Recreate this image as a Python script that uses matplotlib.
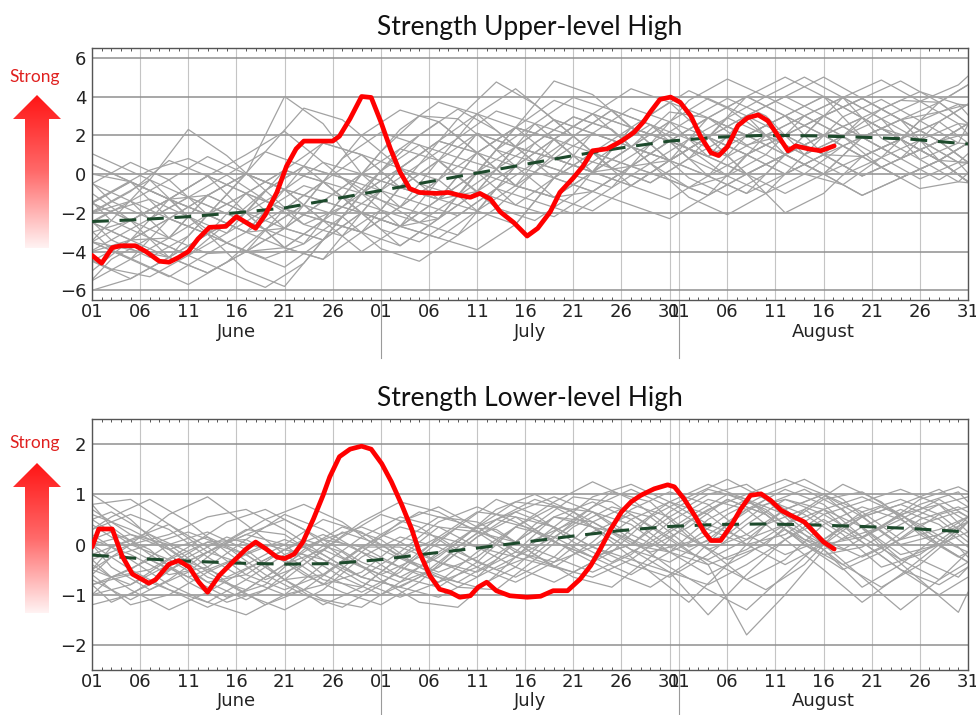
import numpy as np
import matplotlib
matplotlib.use("Agg")
import matplotlib.pyplot as plt
from matplotlib.patches import Polygon
from matplotlib.colors import LinearSegmentedColormap
from matplotlib.ticker import FixedLocator, MultipleLocator

# ---------------- data ----------------
# x positions are days since June 1 (June 1 = 0, July 1 = 30, Aug 1 = 61, Aug 31 = 91)
tick_days = [0, 5, 10, 15, 20, 25, 30, 35, 40, 45, 50, 55, 60, 61, 66, 71, 76, 81, 86, 91]
tick_labels = ['01', '06', '11', '16', '21', '26', '01', '06', '11', '16', '21', '26', '31',
               '01', '06', '11', '16', '21', '26', '31']
month_names = ['June', 'July', 'August']
month_centers = [15, 45.5, 76]
month_bounds = [30, 61]

titles = ['Strength Upper-level High', 'Strength Lower-level High']
upper_yticks = [-6, -4, -2, 0, 2, 4, 6]
lower_yticks = [-2, -1, 0, 1, 2]

# climatology (dashed green)
clim_days = [0, 5, 10, 15, 20, 25, 30, 35, 40, 45, 50, 55, 60, 65, 70, 75, 80, 85, 91]
upper_clim = [-2.45, -2.35, -2.2, -2.0, -1.75, -1.3, -0.85, -0.4, 0.05, 0.5, 0.95, 1.35,
              1.7, 1.9, 2.0, 1.97, 1.9, 1.8, 1.55]
lower_clim = [-0.21, -0.28, -0.33, -0.37, -0.39, -0.38, -0.3, -0.18, -0.07, 0.05, 0.17,
              0.28, 0.36, 0.4, 0.41, 0.39, 0.36, 0.32, 0.25]

# current year (red)
upper_red_days = [0, 1, 2.1, 3, 4.5, 5.6, 7, 8, 9, 10, 11, 12.2, 13.9, 15, 16, 17, 18, 19.2,
                  20.2, 21.2, 22, 23.6, 25, 25.7, 26.8, 28, 29, 30, 31, 32, 33, 34, 35.8, 37,
                  38.2, 39.3, 40.3, 41.4, 42.4, 43.8, 45.2, 46.3, 47.6, 48.6, 50, 51, 52,
                  53.5, 55, 56.3, 57.3, 58, 59, 60.1, 61.1, 62.2, 63.2, 64.3, 65.1, 66, 67.1,
                  68.1, 69.2, 70.2, 71.3, 72.3, 73.1, 74.4, 75.7, 77.1]
upper_red = [-4.2, -4.6, -3.8, -3.7, -3.7, -4.0, -4.5, -4.55, -4.3, -4.0, -3.35, -2.75,
             -2.7, -2.2, -2.5, -2.8, -2.1, -0.95, 0.4, 1.3, 1.7, 1.7, 1.7, 1.95, 2.85, 4.0,
             3.95, 2.7, 1.3, 0.1, -0.75, -0.95, -1.0, -0.95, -1.1, -1.2, -1.0, -1.3, -1.95,
             -2.5, -3.2, -2.8, -1.95, -0.95, -0.2, 0.4, 1.2, 1.3, 1.7, 2.15, 2.7, 3.2, 3.85,
             3.97, 3.7, 3.0, 1.95, 1.1, 0.95, 1.4, 2.5, 2.9, 3.05, 2.75, 1.95, 1.2, 1.45,
             1.3, 1.2, 1.45]

lower_red_days = [0, 0.7, 2.1, 3.1, 4.2, 5.9, 6.6, 8, 9, 10.1, 11.1, 12, 13.2, 14.6, 16, 17,
                  18.1, 19.2, 20, 21, 21.9, 23, 24, 24.7, 25.7, 26.8, 28, 29, 30.1, 31.1,
                  32.2, 33.2, 34, 35.1, 36.1, 37.2, 38.2, 39.3, 40.1, 41, 42, 43.4, 45.2,
                  46.6, 47.9, 49.4, 50.7, 51.8, 52.8, 53.9, 55, 56, 57, 58.4, 59.8, 60.5,
                  61.5, 62.6, 63.6, 64.3, 65.3, 66.4, 67.4, 68.4, 69.5, 70.5, 71.6, 72.6, 74,
                  75, 76, 77.1]
lower_red = [-0.05, 0.31, 0.31, -0.22, -0.59, -0.77, -0.7, -0.39, -0.32, -0.45, -0.75,
             -0.95, -0.62, -0.35, -0.09, 0.05, -0.09, -0.25, -0.28, -0.19, 0.05, 0.51, 0.98,
             1.35, 1.75, 1.9, 1.96, 1.9, 1.61, 1.25, 0.78, 0.31, -0.15, -0.62, -0.89, -0.95,
             -1.05, -1.02, -0.85, -0.75, -0.92, -1.02, -1.05, -1.03, -0.92, -0.92, -0.69,
             -0.42, -0.09, 0.31, 0.65, 0.85, 0.98, 1.11, 1.19, 1.15, 0.91, 0.58, 0.25, 0.08,
             0.08, 0.38, 0.71, 0.98, 1.01, 0.88, 0.68, 0.58, 0.45, 0.25, 0.05, -0.09]

# past years (gray), sampled every 4 days on two staggered grids
gray_days = [0, 4, 8, 12, 16, 20, 24, 28, 32, 36, 40, 44, 48, 52, 56, 60, 64, 68, 72, 76, 80,
             84, 88, 91]
gray_days_b = [0, 2, 6, 10, 14, 18, 22, 26, 30, 34, 38, 42, 46, 50, 54, 58, 62, 66, 70, 74,
               78, 82, 86, 90, 91]
upper_gray = [
    [-0.5, 0.6, -0.3, -2.1, -3.0, -0.8, 1.6, 1.0, -0.7, -1.3, 0.1, 2.4, 1.8, 0.1, 1.4, 3.2, 2.9, 1.5, 2.0, 3.0, 3.9, 2.8, 1.7, 2.6],
    [-5.5, -4.4, -2.3, -1.1, -2.0, -3.8, -4.4, -2.0, 0.3, 1.7, 1.1, -0.6, -1.2, 0.1, 2.4, 1.7, -0.1, -1.0, 1.0, 2.0, 0.9, -0.2, 0.7, 1.6],
    [-2.5, -3.4, -4.3, -3.1, -1.0, 0.2, -0.4, -2.0, -2.7, -1.3, 1.1, 2.4, 1.8, 1.1, 0.4, 1.7, 2.9, 4.0, 3.0, 1.0, -0.1, 0.8, 2.7, 3.6],
    [-1.5, -2.4, -1.3, -0.1, -2.0, -2.8, -3.4, -1.0, 1.3, 2.7, 1.1, -0.6, 0.8, 2.1, 1.4, 0.7, 1.9, 3.0, 1.0, 0.0, 1.9, 2.8, 1.7, 0.6],
    [-3.5, -4.4, -5.3, -4.1, -4.0, -2.8, -1.4, -2.0, -3.7, -2.3, 0.1, -0.6, -1.2, -0.9, 0.4, 0.7, 1.9, 1.0, 0.0, 1.0, 0.9, 1.8, 0.7, -0.4],
    [0.5, -0.4, -1.3, -0.1, 1.0, 2.2, 0.6, -1.0, -1.7, -0.3, 2.1, 1.4, 0.8, 0.1, 1.4, 2.7, 3.9, 3.0, 2.0, 3.0, 3.9, 4.8, 3.7, 2.6],
    [-1.5, -0.4, -1.3, -2.1, 0.0, 4.0, 2.6, 0.0, -0.7, 0.7, 3.1, 4.4, 2.8, 2.1, 1.4, 0.7, 1.9, 3.0, 4.0, 5.0, 3.9, 2.8, 3.7, 4.6],
    [-4.5, -3.4, -2.3, -3.1, -5.0, -5.8, -3.4, -1.0, 0.3, -0.3, -1.9, -2.6, -0.2, 1.1, 2.4, 1.7, 0.9, 0.0, 1.0, 2.0, 2.9, 1.8, 0.7, -0.4],
    [-2.0, -0.9, 0.7, -0.1, -1.0, -1.8, -2.4, -3.0, -1.7, 0.7, 2.1, 0.4, -1.2, -1.9, -0.6, 0.7, 1.9, 1.0, 0.0, 1.0, 1.9, 2.8, 3.2, 3.6],
    [-4.0, -3.4, -2.3, -1.1, 0.0, -0.8, -1.4, 0.0, 1.3, 0.7, -0.9, -1.6, -0.2, 2.1, 3.4, 2.7, 0.9, 0.0, 1.0, 3.0, 3.9, 2.8, 0.7, -0.4],
    [-0.5, -1.4, -3.3, -4.1, -3.0, -1.8, -0.4, -1.0, -2.7, -3.3, -1.9, 0.4, 1.8, 3.1, 2.4, 0.7, -0.1, 1.0, 2.0, 1.0, -0.1, 0.8, 1.7, 2.6],
    [-3.0, -2.4, -1.3, -2.1, -3.0, -3.8, -2.4, 0.0, 2.3, 3.7, 3.1, 1.4, 0.8, 0.1, 0.4, 1.7, 2.9, 2.0, 1.0, 0.0, 0.9, 1.8, 2.7, 1.6],
    [-6.0, -5.4, -4.3, -3.1, -4.0, -4.8, -3.4, -2.0, -2.7, -3.3, -3.9, -2.6, -0.2, 1.1, 0.4, -0.3, -1.1, 0.0, 1.0, 0.0, -1.1, -0.2, 0.7, 0.6],
    [-1.5, -0.4, -1.3, -1.1, 0.0, -0.8, -2.4, -3.0, -1.7, -0.3, 1.1, 2.4, 3.8, 3.1, 1.4, 0.7, 1.9, 4.0, 5.0, 4.0, 1.9, 0.8, 1.7, 2.6],
    [-3.5, -3.9, -4.3, -5.1, -4.0, -1.8, -0.4, 1.0, 0.3, -1.3, -1.9, -0.6, 1.8, 3.1, 4.4, 3.7, 1.9, 0.0, -1.0, 0.0, 1.9, 2.8, 1.7, 0.6],
    [-2.5, -1.4, -0.3, 0.9, 0.0, -0.8, -1.4, -2.0, -2.7, -2.3, -0.9, 1.4, 2.8, 2.1, 1.4, 0.7, -0.1, -1.0, 0.0, 1.0, 2.9, 3.8, 3.7, 2.6],
    [0.0, -0.4, -1.3, -3.1, -4.0, -3.8, -2.4, -1.0, 0.3, 1.7, 3.1, 2.4, 0.8, 0.1, -0.6, 0.7, 2.9, 4.0, 3.0, 2.0, 0.9, -0.2, 0.7, 1.6],
    [-4.5, -5.4, -4.3, -2.1, -1.0, -1.8, -2.4, -3.0, -3.7, -2.3, 0.1, 1.4, 0.8, 0.1, 1.4, 2.7, 1.9, 1.0, 2.0, 3.0, 1.9, 0.8, -0.3, 0.6],
    [-1.5, -2.4, -3.3, -2.1, -1.0, 0.2, 1.6, 1.0, -0.7, -1.3, -0.9, 0.4, -0.2, -0.9, 0.4, 1.7, 2.9, 2.0, 1.0, 2.0, 2.9, 1.8, 0.7, 1.6],
    [-3.5, -2.4, -1.3, -2.1, -3.0, -2.8, -1.4, 0.0, -0.7, -1.3, 0.1, 2.4, 4.8, 4.1, 2.4, 1.7, 0.9, 2.0, 3.0, 4.0, 2.9, 1.8, 2.7, 3.6],
    [-2.5, -3.4, -3.3, -1.1, -2.0, -3.8, -4.4, -3.0, -0.7, 0.7, 0.1, -1.6, -2.2, -0.9, 0.4, -0.3, -1.1, 0.0, 1.0, 0.0, -1.1, -0.2, 0.7, -0.4],
    [-1.0, -2.4, -4.3, -5.1, -4.0, -2.8, -0.4, 2.0, 3.3, 2.7, 1.1, -0.6, -1.2, 0.1, 2.4, 3.7, 2.9, 2.0, 3.0, 4.0, 2.9, 1.8, 0.7, 1.6],
    [-5.0, -3.4, -1.3, -0.1, -1.0, -2.8, -3.4, -2.0, 0.3, 1.7, 1.1, 0.4, 1.8, 3.1, 2.4, 1.7, 0.9, 3.0, 4.0, 3.0, 1.9, 0.8, 1.7, 2.1],
    [-2.0, -1.4, -2.3, -3.1, -2.0, -0.8, 0.6, 0.0, -1.7, -2.3, -0.9, 1.4, 2.8, 1.1, -0.6, -1.3, -0.1, 2.0, 3.0, 2.0, 0.9, 1.8, 3.7, 4.6],
    [-3.5, -4.4, -3.3, -1.1, 0.0, -0.8, -2.4, -4.0, -2.7, -0.3, 2.1, 1.4, -0.2, -0.9, -1.6, -2.3, -1.1, 1.0, 2.0, 1.0, -0.1, 0.8, 1.7, 0.6],
    [0.5, -0.4, -2.3, -3.1, -2.0, 0.2, -0.4, -2.0, -2.7, -1.3, 1.1, 2.4, 1.8, 0.1, -0.6, 0.7, 1.9, 0.0, -2.0, -1.0, 0.9, 1.8, 0.7, -0.4],
]
upper_gray_b = [
    [-1.45, -0.9, 0.2, 0.8, -0.05, -1.35, -2.6, -1.7, 0.15, 2.0, 3.35, 2.25, 0.6, -0.05, 1.3, 3.05, 4.3, 3.4, 2.0, 1.0, 1.95, 3.35, 4.25, 3.6, 3.05],
    [-4.45, -4.9, -5.3, -4.2, -2.55, -0.85, 0.4, -0.2, -1.35, -2.5, -3.15, -1.75, 0.1, 1.95, 3.3, 2.55, 1.3, -0.1, -1.0, 0.0, 1.45, 2.35, 1.75, 0.6, 0.05],
    [-2.45, -3.4, -4.3, -3.2, -1.05, 1.15, 3.4, 2.8, 1.15, -0.5, -1.15, 0.25, 2.6, 3.95, 3.3, 1.55, -0.2, -1.1, 0.0, 2.0, 3.95, 2.85, 0.75, -0.4, -0.45],
    [1.05, 0.6, -0.3, -2.2, -3.05, -1.85, -0.6, -1.2, -1.85, -2.5, -1.15, 1.25, 2.6, 1.95, 0.3, -0.45, 0.8, 2.9, 4.0, 5.0, 3.95, 1.85, 0.75, 1.6, 2.55],
    [-3.45, -2.4, -0.3, 2.3, 0.95, -0.85, -2.6, -3.2, -1.85, 0.5, 2.85, 4.75, 3.6, 1.95, 0.3, -0.45, 0.8, 1.9, 1.0, 0.0, -0.55, 0.85, 2.75, 3.6, 3.55],
    [-5.45, -4.4, -3.3, -4.2, -5.05, -5.85, -4.6, -2.2, -0.85, -1.5, -2.15, -0.75, 0.6, -0.05, -0.7, 0.55, 1.8, 2.9, 2.0, 1.0, 1.95, 2.85, 3.75, 4.6, 5.05],
    [-0.45, -1.4, -2.3, -1.2, -0.05, 1.15, 0.4, -1.2, -2.85, -3.5, -2.15, -0.75, -1.4, -2.05, -0.7, 1.55, 2.8, 3.9, 3.0, 1.0, -0.05, 0.85, 1.75, 2.6, 2.05],
    [-2.45, -1.9, -1.3, -2.2, -3.55, -4.35, -3.6, -1.2, 1.15, 3.0, 2.85, 1.25, 0.6, 1.95, 3.3, 2.55, 0.8, -0.1, 1.0, 3.0, 3.95, 2.85, 1.75, 0.6, 0.55],
    [-3.95, -3.4, -2.3, -1.2, -2.05, -2.85, -1.6, 0.8, 2.15, 1.5, -0.15, -1.75, -2.4, -1.05, 1.3, 2.55, 1.8, 0.9, 2.0, 3.0, 1.95, 0.85, -0.25, 0.6, 1.05],
    [-1.45, -2.4, -3.3, -4.2, -3.05, -0.85, 0.4, -0.2, -0.85, 0.5, 1.85, 3.25, 2.6, 0.95, 0.3, 1.55, 3.8, 4.9, 4.0, 3.0, 3.95, 4.85, 3.75, 2.6, 2.55],
    [-2.95, -3.9, -4.8, -5.7, -4.55, -2.85, -1.6, -2.2, -3.85, -4.5, -3.15, -0.75, 1.6, 2.95, 2.3, 0.55, -0.7, -0.1, 2.0, 3.0, 1.95, 0.35, -0.75, -0.4, 0.05],
    [-1.95, -1.4, -0.3, -1.2, -2.05, -2.85, -3.6, -2.2, 0.15, 1.5, 0.85, 0.25, 1.6, 2.95, 2.3, 0.55, -1.2, -2.1, -1.0, 1.0, 2.95, 3.85, 2.75, 1.6, 1.55],
]
lower_gray = [
    [0.6, 0.3, -0.1, -0.65, -0.9, -0.4, 0.1, 0.35, 0.05, -0.35, -0.55, -0.15, 0.55, 0.85, 0.5, -0.05, -0.3, 0.1, 0.7, 1.0, 0.55, 0.0, 0.2, 0.55],
    [-0.7, -1.1, -0.7, -0.15, 0.2, 0.0, -0.6, -0.95, -0.55, 0.15, 0.65, 0.55, 0.05, -0.25, 0.0, 0.55, 1.0, 1.2, 0.7, 0.1, -0.25, 0.1, 0.6, 0.75],
    [1.0, 0.5, -0.2, -0.75, -0.6, -0.1, 0.2, -0.15, -0.65, -0.85, -0.35, 0.35, 0.75, 0.65, 0.2, -0.15, -0.4, -0.1, 0.4, 0.9, 1.05, 0.6, 0.1, -0.15],
    [0.0, -0.5, -0.9, -1.25, -0.9, -0.4, -0.1, -0.45, -0.75, -0.45, 0.15, 0.65, 0.95, 0.65, 0.1, -0.45, -0.9, -1.3, -0.6, 0.1, 0.55, 0.8, 0.5, 0.05],
    [-0.5, 0.0, 0.6, 0.95, 0.4, -0.2, -0.7, -0.85, -0.25, 0.35, 0.25, -0.25, -0.45, 0.05, 0.7, 1.05, 0.8, 0.2, -0.2, 0.1, 0.65, 0.9, 0.6, 0.15],
    [0.3, 0.6, 0.3, -0.25, -0.7, -1.0, -0.8, -0.15, 0.45, 0.75, 0.35, -0.15, -0.35, -0.05, 0.5, 0.85, 0.6, 0.0, -0.4, 0.0, 0.55, 0.8, 1.1, 0.75],
    [-1.0, -0.8, -0.3, 0.05, -0.2, -0.7, -1.1, -1.25, -0.75, -0.15, 0.35, 0.65, 0.35, -0.05, -0.4, -0.65, -0.2, 0.4, 0.9, 0.7, 0.05, -0.5, -1.0, -0.65],
    [0.1, -0.2, -0.6, -0.45, 0.1, 0.6, 0.3, -0.15, -0.45, -0.65, -0.85, -0.45, 0.25, 0.75, 1.1, 0.75, 0.3, 0.0, 0.2, 0.7, 0.95, 0.6, 0.0, -0.35],
    [-0.4, -0.9, -1.3, -0.95, -0.5, -0.1, -0.3, -0.75, -1.05, -0.75, -0.15, 0.35, 0.15, -0.25, -0.6, -0.15, 0.5, 0.9, 0.6, 0.0, -0.65, -1.3, -0.7, -0.15],
    [0.4, -0.1, -0.5, -0.15, 0.3, 0.2, -0.3, -0.65, -0.15, 0.45, 0.75, 0.45, 0.05, -0.25, 0.0, 0.65, 1.1, 0.9, 0.3, -0.2, -0.05, 0.4, 0.8, 0.95],
    [-0.8, -0.5, 0.0, 0.25, -0.1, -0.7, -1.2, -0.85, -0.25, 0.15, -0.05, -0.45, -0.75, -0.35, 0.3, 0.85, 1.2, 0.9, 0.4, 0.0, 0.15, 0.6, 0.8, 0.45],
    [-0.2, 0.1, 0.4, -0.05, -0.6, -0.9, -0.6, -0.05, 0.35, 0.15, -0.35, -0.65, -0.25, 0.45, 0.8, 0.55, -0.1, -0.7, -0.3, 0.4, 0.75, 0.5, 0.0, -0.35],
    [0.8, 0.9, 0.4, -0.15, -0.4, 0.0, 0.5, 0.25, -0.25, -0.55, -0.25, 0.35, 0.85, 1.25, 0.9, 0.35, -0.1, 0.2, 0.7, 1.0, 0.65, 0.1, 0.3, 0.55],
    [-0.6, -1.2, -1.0, -0.55, -0.2, 0.1, -0.2, -0.65, -0.85, -1.05, -0.65, 0.05, 0.55, 0.35, -0.1, -0.55, -0.8, -0.4, 0.1, 0.5, 0.05, -0.5, -0.8, -0.45],
    [0.0, 0.2, 0.0, -0.55, -1.0, -1.3, -0.9, -0.25, 0.15, -0.05, -0.45, -0.75, -0.35, 0.25, 0.6, 0.15, -0.4, -1.8, -1.0, -0.1, 0.35, 0.7, 0.4, -0.05],
    [-1.2, -1.0, -0.5, -0.15, 0.2, 0.5, 0.1, -0.35, -0.65, -0.25, 0.35, 0.85, 0.75, 0.35, -0.1, -0.35, 0.1, 0.7, 1.1, 0.8, 0.15, -0.3, 0.0, 0.45],
    [0.2, -0.3, -0.8, -1.15, -1.4, -1.0, -0.4, 0.15, 0.55, 0.35, -0.05, -0.25, 0.15, 0.65, 0.4, -0.15, -0.6, -0.2, 0.3, -0.1, -0.85, -0.4, 0.2, 0.45],
    [-0.3, 0.0, 0.2, 0.55, 0.7, 0.3, -0.2, -0.65, -0.85, -0.45, 0.15, 0.55, 0.35, -0.05, -0.3, -0.55, -1.4, -0.6, 0.1, 0.6, 0.85, 1.1, 0.8, 0.25],
    [0.5, 0.0, -0.3, -0.75, -1.1, -0.7, -0.1, 0.45, 0.85, 0.65, 0.25, 0.05, -0.25, -0.55, -0.2, 0.45, 0.9, 0.7, 0.1, -0.5, -1.15, -0.6, 0.0, 0.45],
    [-0.5, -0.8, -0.4, 0.05, 0.1, -0.3, -0.8, -0.55, 0.05, 0.55, 0.45, 0.05, -0.45, -0.65, -0.3, 0.25, 0.7, 1.0, 1.3, 1.0, 0.35, -0.2, 0.0, 0.25],
    [0.7, 0.2, -0.1, 0.15, -0.2, -0.7, -0.6, -0.05, -0.05, -0.35, -0.65, -0.25, 0.35, 0.95, 1.2, 0.85, 0.4, 0.1, 0.4, 0.7, 0.35, -0.3, -0.7, -0.35],
    [-0.8, -0.6, -0.9, -1.15, -0.7, -0.2, 0.1, -0.05, -0.45, -0.75, -0.45, 0.05, 0.55, 0.45, 0.0, -0.15, 0.2, 0.7, 0.9, 0.6, 0.15, 0.5, 0.9, 0.55],
]
lower_gray_b = [
    [0.3, 0.55, 0.9, 0.45, -0.15, -0.7, -0.4, 0.15, 0.6, 0.35, -0.15, -0.5, -0.2, 0.45, 1.05, 0.85, 0.15, -0.3, 0.0, 0.7, 1.2, 0.85, 0.2, -0.25, -0.15],
    [-1.0, -0.65, -0.3, -0.65, -1.05, -0.8, -0.1, 0.35, 0.1, -0.45, -0.85, -0.9, -0.3, 0.35, 0.75, 0.55, -0.05, 0.2, 0.8, 1.1, 0.7, -0.05, -0.7, -1.35, -0.95],
    [0.0, -0.45, -0.9, -0.55, 0.05, 0.5, 0.8, 0.45, -0.1, -0.45, 0.05, 0.7, 1.0, 0.65, 0.05, -0.55, -1.15, -0.4, 0.4, 0.7, 0.2, -0.45, -0.2, 0.35, 0.55],
    [-0.5, -0.05, 0.2, -0.15, -0.75, -1.2, -0.9, -0.35, 0.2, 0.65, 0.45, 0.1, -0.3, -0.55, -0.15, 0.55, 0.95, 1.3, 0.9, 0.2, -0.4, -0.85, -0.4, 0.25, 0.45],
    [0.8, 0.35, -0.2, -0.65, -0.35, 0.0, -0.2, -0.65, -1.0, -0.65, -0.05, 0.5, 0.3, -0.15, -0.55, -0.85, -0.35, 0.4, 0.9, 0.6, 0.1, 0.35, 0.8, 1.05, 0.85],
    [-0.8, -1.15, -0.8, -0.25, 0.15, -0.1, -0.6, -0.95, -1.2, -0.75, -0.05, 0.5, 0.9, 0.65, 0.25, -0.05, 0.35, 0.9, 0.6, 0.0, -0.5, -0.15, 0.4, 0.65, 0.55],
    [0.1, 0.25, -0.1, -0.75, -1.15, -0.9, -0.3, 0.25, 0.0, -0.45, -0.75, -0.3, 0.4, 0.95, 0.85, 0.35, -0.15, -0.5, -0.9, -0.4, 0.4, 0.75, 0.4, -0.05, -0.25],
    [-0.3, -0.65, -0.5, -0.05, 0.45, 0.7, 0.3, -0.25, -0.6, -0.25, 0.35, 0.9, 0.6, 0.05, -0.35, 0.05, 0.55, 1.0, 0.7, 0.1, -0.1, 0.35, 0.9, 1.15, 1.05],
    [0.5, 0.65, 0.2, -0.35, -0.65, -0.3, 0.1, -0.15, -0.7, -1.15, -1.25, -0.6, 0.1, 0.45, 0.25, -0.15, 0.05, 0.6, 1.0, 1.3, 0.9, 0.25, -0.3, -0.65, -0.45],
    [-0.6, -0.25, 0.0, 0.25, -0.05, -0.6, -1.0, -1.25, -0.8, -0.15, 0.35, 0.3, -0.2, -0.65, -0.85, -0.25, 0.45, 0.9, 0.6, 0.0, -0.4, -0.05, 0.5, 0.75, 0.65],
]

# ---------------- style ----------------
GRAY = '#a2a2a2'
RED = '#ff0000'
GREEN = '#1d4a2c'
TICK_FONT = 'DejaVu Sans'
TITLE_FONT = ['Lato', 'DejaVu Sans']

fig = plt.figure(figsize=(9.76, 7.15), dpi=100)

# overlay for decorations (arrows, "Strong" labels), in pixel coordinates
deco = fig.add_axes([0, 0, 1, 1], zorder=0)
deco.set_axis_off()
deco.patch.set_visible(False)
cmap = LinearSegmentedColormap.from_list('arrow', ['#ff1515', '#ff6a6a', '#fff3f3'])
grad = np.linspace(0, 1, 256).reshape(-1, 1)


def draw_arrow(tip, base, bottom, label_y):
    im = deco.imshow(grad, cmap=cmap, extent=(12, 62, bottom, tip), origin='upper',
                     aspect='auto', interpolation='bilinear')
    poly = Polygon([(25, bottom), (25, base), (13, base), (37, tip), (61, base),
                    (49, base), (49, bottom)], closed=True, facecolor='none',
                   edgecolor='none', transform=deco.transData)
    deco.add_patch(poly)
    im.set_clip_path(poly)
    deco.text(35, label_y, 'Strong', color='#e0201f', fontsize=12.5, family=TITLE_FONT,
              ha='center', va='center')


draw_arrow(95, 119, 248, 77)
draw_arrow(463, 487, 613, 443)
deco.set_xlim(0, 976)
deco.set_ylim(715, 0)

panels = [
    dict(rect=[0.0943, 0.5804, 0.8975, 0.3524], ylim=(-6.5, 6.5), yticks=upper_yticks,
         gray=upper_gray, gray_b=upper_gray_b, clim=upper_clim, red_x=upper_red_days,
         red=upper_red, title=titles[0], sep_len=0.23),
    dict(rect=[0.0943, 0.0629, 0.8975, 0.351], ylim=(-2.5, 2.5), yticks=lower_yticks,
         gray=lower_gray, gray_b=lower_gray_b, clim=lower_clim, red_x=lower_red_days,
         red=lower_red, title=titles[1], sep_len=0.18),
]

for p in panels:
    ax = fig.add_axes(p['rect'], zorder=1)
    ax.set_xlim(0, 91)
    ax.set_ylim(*p['ylim'])

    for row in p['gray']:
        ax.plot(gray_days, row, color=GRAY, lw=0.9, zorder=2)
    for row in p['gray_b']:
        ax.plot(gray_days_b, row, color=GRAY, lw=0.9, zorder=2)
    ax.plot(clim_days, p['clim'], color=GREEN, lw=2.2, dashes=(5.5, 3.5), zorder=3)
    ax.plot(p['red_x'], p['red'], color=RED, lw=3.4, zorder=4, solid_capstyle='round',
            solid_joinstyle='round')

    # grid
    for d in tick_days:
        ax.axvline(d, color='#c4c4c4', lw=0.8, zorder=1)
    for yv in p['yticks']:
        ax.axhline(yv, color='#8f8f8f', lw=1.1, zorder=1)

    ax.xaxis.set_major_locator(FixedLocator(tick_days))
    ax.set_xticklabels(tick_labels)
    ax.xaxis.set_minor_locator(MultipleLocator(1))
    ax.set_yticks(p['yticks'])
    ax.tick_params(axis='x', which='major', length=0, pad=2, labelsize=13,
                   labelcolor='#222222')
    ax.tick_params(axis='x', which='minor', direction='in', length=2.5, width=0.7,
                   color='#555555', top=True, bottom=True)
    ax.tick_params(axis='y', which='major', length=0, pad=4, labelsize=13,
                   labelcolor='#222222')
    for lab in ax.get_xticklabels() + ax.get_yticklabels():
        lab.set_family(TICK_FONT)
    for s in ax.spines.values():
        s.set_color('#555555')
        s.set_linewidth(1.0)

    # month separators extending below the axes
    trans = ax.get_xaxis_transform()
    for mb in month_bounds:
        ax.plot([mb, mb], [0, -p['sep_len']], transform=trans, color='#9a9a9a', lw=0.8,
                clip_on=False, zorder=1)
    for name, mc in zip(month_names, month_centers):
        ax.text(mc, -0.125, name, transform=trans, ha='center', va='center', fontsize=13,
                family=TICK_FONT, color='#222222')

    ax.text(0.5, 1.083, p['title'], transform=ax.transAxes, ha='center', va='center',
            fontsize=19, family=TITLE_FONT, color='#111111')

fig.savefig('out.png', dpi=100)
